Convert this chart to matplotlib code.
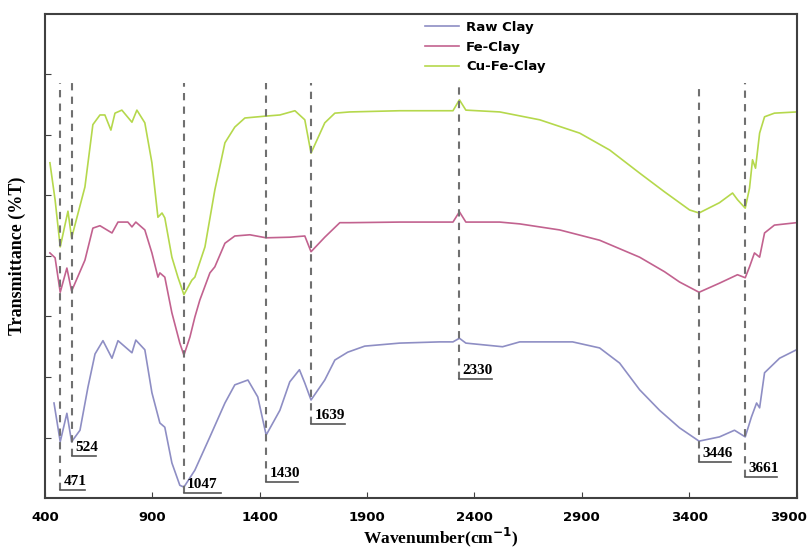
import matplotlib.pyplot as plt
import matplotlib.transforms as mtransforms

# espectros FTIR (número de onda em cm-1, transmitância em unidades arbitrárias)
raw_w = [442, 471, 502, 524, 563, 600, 633, 670, 712, 740, 805, 823, 865, 898, 935, 958, 991,
         1028, 1047, 1098, 1168, 1238, 1284, 1345, 1391, 1430, 1494, 1540, 1585, 1610, 1639,
         1703, 1750, 1810, 1889, 2052, 2238, 2300, 2330, 2360, 2531, 2611, 2857, 2983, 3076,
         3169, 3262, 3355, 3446, 3541, 3611, 3661, 3690, 3714, 3728, 3751, 3821, 3900]
raw_t = [15.7, 9.3, 14.0, 9.3, 11.2, 18.3, 23.8, 26.0, 23.1, 26.0, 24.0, 26.1, 24.5, 17.4, 12.4,
         11.7, 5.8, 2.1, 1.8, 4.6, 10.1, 15.7, 18.7, 19.5, 16.7, 10.4, 14.5, 19.2, 21.2, 19.0,
         16.2, 19.5, 22.8, 24.1, 25.1, 25.6, 25.8, 25.8, 26.4, 25.6, 25.0, 25.8, 25.8, 24.8,
         22.3, 17.9, 14.5, 11.6, 9.4, 10.1, 11.2, 10.1, 13.4, 15.7, 14.9, 20.7, 23.1, 24.5]

fe_w = [423, 447, 471, 502, 524, 586, 623, 656, 712, 740, 786, 805, 823, 865, 898, 926, 935,
        958, 991, 1028, 1047, 1075, 1098, 1121, 1168, 1191, 1238, 1284, 1354, 1430, 1540,
        1610, 1639, 1703, 1773, 1819, 2052, 2238, 2300, 2330, 2360, 2518, 2611, 2797, 2983,
        3169, 3285, 3355, 3446, 3541, 3625, 3661, 3681, 3704, 3728, 3751, 3797, 3900]
fe_t = [40.5, 39.7, 34.0, 38.0, 34.2, 39.3, 44.6, 45.0, 43.8, 45.6, 45.6, 44.8, 45.6, 44.3,
        40.5, 36.5, 37.2, 36.5, 30.6, 25.6, 23.6, 26.6, 29.9, 32.7, 37.2, 38.2, 42.1, 43.3,
        43.5, 43.0, 43.1, 43.3, 40.7, 43.1, 45.5, 45.5, 45.6, 45.6, 45.6, 47.3, 45.6, 45.6,
        45.3, 44.3, 42.6, 39.8, 37.4, 35.7, 34.0, 35.5, 36.9, 36.4, 38.2, 40.5, 39.8, 43.8,
        45.1, 45.5]

cu_w = [423, 447, 471, 507, 524, 586, 623, 656, 679, 707, 726, 758, 805, 828, 865, 898, 926,
        945, 958, 991, 1019, 1047, 1084, 1098, 1145, 1191, 1238, 1284, 1331, 1424, 1494,
        1564, 1610, 1639, 1703, 1750, 1819, 2052, 2238, 2300, 2330, 2360, 2518, 2704, 2890,
        3030, 3169, 3285, 3402, 3446, 3541, 3602, 3625, 3661, 3681, 3695, 3709, 3728, 3751,
        3797, 3900]
cu_t = [55.4, 49.3, 41.5, 47.4, 43.0, 51.4, 61.7, 63.3, 63.3, 60.8, 63.6, 64.1, 62.1, 64.1,
        62.0, 55.4, 46.4, 47.1, 46.3, 39.8, 36.5, 33.6, 36.0, 36.5, 41.5, 50.9, 58.7, 61.3,
        62.8, 63.1, 63.3, 64.0, 62.5, 57.0, 62.0, 63.6, 63.8, 64.0, 64.0, 64.0, 65.8, 64.1,
        63.8, 62.5, 60.3, 57.5, 53.7, 50.6, 47.6, 47.1, 48.8, 50.4, 49.3, 47.9, 51.2, 55.9,
        54.5, 60.3, 63.0, 63.6, 63.8]

# picos marcados e altura da etiqueta
picos = [471, 524, 1047, 1430, 1639, 2330, 3446, 3661]
etiqueta_y = [1.3, 6.9, 0.8, 2.6, 12.2, 19.7, 6.0, 3.5]
etiqueta_larg = [115, 115, 175, 150, 160, 150, 150, 150]

fig = plt.figure(figsize=(8.09, 5.52), dpi=100)
ax = plt.axes([0.0556, 0.0978, 0.929, 0.877])

ax.plot(raw_w, raw_t, color='#8e8ec4', lw=1.2, label='Raw Clay')
ax.plot(fe_w, fe_t, color='#c2628f', lw=1.2, label='Fe-Clay')
ax.plot(cu_w, cu_t, color='#b5d84c', lw=1.2, label='Cu-Fe-Clay')

# linhas tracejadas e rótulos sublinhados
for p, yl, lw_ in zip(picos, etiqueta_y, etiqueta_larg):
    ax.plot([p, p], [yl, 68.6], color='#707070', lw=1.5, ls=(0, (3.5, 3)))
    ax.plot([p, p + lw_], [yl, yl], color='#555555', lw=1.2)
    ax.text(p + 15, yl + 0.3, str(p), fontsize=11, fontweight='bold',
            family='Liberation Serif', va='bottom', ha='left')

ax.set_xlim(400, 3900)
ax.set_ylim(0, 80)
ax.set_xticks([400, 900, 1400, 1900, 2400, 2900, 3400, 3900])
ax.set_yticks(range(10, 80, 10))
ax.set_yticklabels([])
ax.tick_params(direction='in', length=4, color='#404040')
ax.tick_params(axis='x', pad=9)
xlabs = ax.get_xticklabels()
for lab in xlabs:
    lab.set_fontweight('bold')
    lab.set_fontsize(9.5)
# o último rótulo (3900) encosta na borda direita
xlabs[-1].set_horizontalalignment('right')
xlabs[-1].set_transform(xlabs[-1].get_transform() +
                        mtransforms.ScaledTranslation(0.1, 0, fig.dpi_scale_trans))
for s in ax.spines.values():
    s.set_color('#404040')
    s.set_linewidth(1.5)

fig.text(0.545, 0.026, 'Wavenumber(cm$^{\\mathbf{-1}}$)', fontsize=12.5, fontweight='bold',
         family='Liberation Serif', ha='center', va='center')
ax.set_ylabel('Transmittance (%T)', fontsize=13, fontweight='bold',
              family='Liberation Serif', labelpad=10)

ax.legend(loc='upper left', bbox_to_anchor=(0.49, 1.01), frameon=False,
          prop={'weight': 'bold', 'size': 9.5}, handlelength=2.6, handletextpad=0.5,
          labelspacing=0.5)

plt.savefig('out.png', dpi=100)
